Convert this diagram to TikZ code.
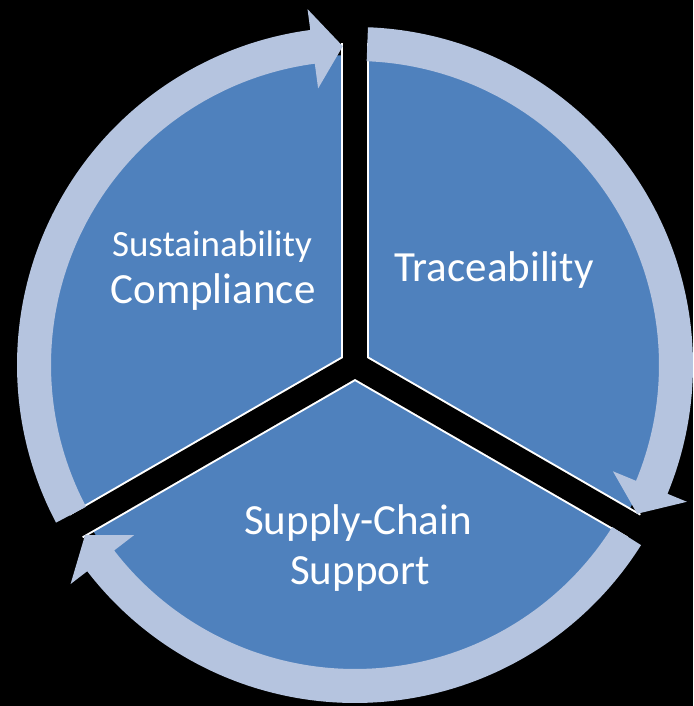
\documentclass[tikz,border=0pt]{standalone}
\usepackage{fontspec}
\setmainfont{Carlito}
\usepackage{tikz}
\usetikzlibrary{positioning}
\definecolor{sectorblue}{RGB}{79,129,189}
\definecolor{ringblue}{RGB}{181,196,223}
\tikzset{
    label/.style={
           text=white,
           inner sep=0pt,
           anchor=base,
           font=\fontsize{43}{50}\selectfont
           },
    small/.style={
           font=\fontsize{37}{42}\selectfont
           },
    ring/.style={
           fill=ringblue
           }
}
% start angle, tip angle, head base angle
\newcommand{\cyclearrow}[3]{%
  \fill[ring] (#1:338pt) arc[start angle=#1, end angle=#3, radius=338pt]
     -- (#3:359pt) -- (#2:319pt) -- (#3:279pt) -- (#3:304pt)
     arc[start angle=#3, end angle=#1, radius=304pt] -- cycle;}

\begin{document}
\begin{tikzpicture}[x=1pt, y=1pt]
\tikzstyle{gap} = [line width=24pt, black]
\tikzstyle{edge} = [line width=28pt, white]
   \useasboundingbox (0,0) rectangle (693,706);
   \fill[black] (0,0) rectangle (693,706);
   \coordinate (c) at (355,341);
   \begin{scope}[shift={(c)}]
     \fill[sectorblue] (0,0) circle[radius=310pt];
     % white borders, then the black gaps
     \foreach \a in {90,210,330}
       \draw[edge] (0,0) -- (\a:322pt);
     \foreach \a in {90,210,330}
       \draw[gap] (0,0) -- (\a:362pt);
     \cyclearrow{207.8}{92.2}{97.6}
     \cyclearrow{87.8}{-27.8}{-22.4}
     \cyclearrow{-32.2}{-147.8}{-142.4}
   \end{scope}
   \node[label,small] (sust)    at (212,449) {Sustainability};
   \node[label] (comp)    at (213,402) {Compliance};
   \node[label] (trace)   at (494,424) {Traceability};
   \node[label] (supply)  at (358,171) {Supply-Chain};
   \node[label] (support) at (360,121) {Support};
\end{tikzpicture}
\end{document}
